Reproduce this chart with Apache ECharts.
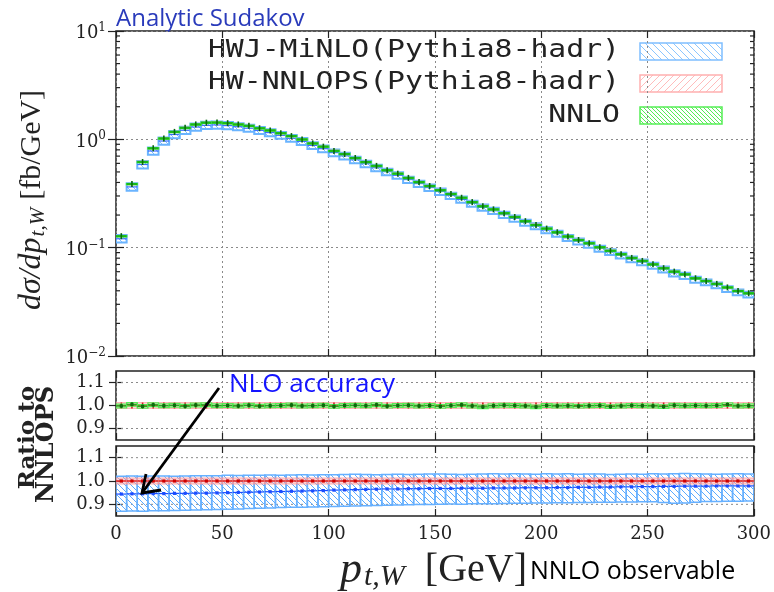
<!DOCTYPE html>
<html><head><meta charset="utf-8">
<script src="https://cdn.jsdelivr.net/npm/echarts@6/dist/echarts.min.js"></script>
<style>html,body{margin:0;padding:0;background:#fff}#c{width:774px;height:592px}</style>
</head><body><div id="c"></div>
<script>
// ---------------- data ----------------
const binLow = [0,5,10,15,20,25,30,35,40,45,50,55,60,65,70,75,80,85,90,95,100,105,110,115,120,125,130,135,140,145,150,155,160,165,170,175,180,185,190,195,200,205,210,215,220,225,230,235,240,245,250,255,260,265,270,275,280,285,290,295];
const binWidth = 5;
// HW-NNLOPS (Pythia8-hadr) central values, fb/GeV
const nnlopsXs = [0.128,0.385,0.62,0.825,1.02,1.17,1.28,1.37,1.42,1.43,1.41,1.375,1.33,1.27,1.21,1.14,1.07,1.00,
  0.918,0.855,0.785,0.732,0.672,0.618,0.567,0.521,0.482,0.44,0.404,0.371,0.341,0.313,0.288,
  0.264,0.243,0.226,0.208,0.192,0.176,0.163,0.150,0.139,0.127,0.118,0.110,0.101,0.094,0.0872,
  0.0804,0.0755,0.0703,0.065,0.060,0.0568,0.0522,0.0493,0.0463,0.0428,0.0399,0.0380];
const nnlopsRelErr = 0.013;
// HWJ-MiNLO / NNLOPS ratio (central, band low, band high)
const minloRatio = [0.944,0.945,0.945,0.946,0.946,0.947,0.947,0.948,0.948,0.949,0.950,0.951,0.952,0.953,0.954,0.955,0.956,0.957,0.958,0.959,
  0.961,0.962,0.963,0.964,0.965,0.966,0.966,0.967,0.967,0.968,0.968,0.968,0.969,0.969,0.969,0.970,0.970,0.970,0.971,0.971,
  0.971,0.972,0.972,0.973,0.973,0.974,0.974,0.975,0.975,0.976,0.976,0.977,0.977,0.978,0.978,0.978,0.979,0.979,0.979,0.979];
const minloRatioLo = [0.870,0.871,0.870,0.872,0.873,0.874,0.875,0.876,0.877,0.878,0.879,0.880,0.882,0.883,0.884,0.886,0.887,0.888,0.889,0.890,
  0.891,0.892,0.893,0.894,0.895,0.896,0.897,0.898,0.899,0.899,0.900,0.901,0.900,0.902,0.903,0.903,0.904,0.905,0.905,0.906,
  0.906,0.907,0.907,0.908,0.908,0.909,0.909,0.910,0.910,0.911,0.911,0.908,0.905,0.906,0.909,0.912,0.912,0.913,0.913,0.914];
const minloRatioHi = [1.020,1.021,1.020,1.021,1.021,1.020,1.021,1.022,1.022,1.023,1.025,1.024,1.025,1.025,1.026,1.025,1.026,1.027,1.026,1.027,
  1.027,1.028,1.029,1.028,1.027,1.028,1.029,1.028,1.029,1.030,1.030,1.029,1.028,1.029,1.030,1.031,1.030,1.031,1.030,1.029,
  1.031,1.030,1.031,1.029,1.030,1.030,1.028,1.029,1.030,1.029,1.031,1.030,1.031,1.032,1.031,1.030,1.029,1.030,1.031,1.030];
// NNLO / NNLOPS ratio
const nnloRatio = [0.998,1.005,0.996,1.003,0.999,1.001,0.997,1.002,1.003,0.999,1.000,0.998,1.001,0.997,0.999,1.000,1.002,0.998,0.999,1.001,
  0.996,1.000,1.001,0.999,1.003,0.997,1.000,1.001,0.998,1.000,0.996,1.000,1.003,0.998,0.994,0.999,1.001,1.000,0.998,0.994,
  1.000,0.998,0.999,0.997,0.999,1.000,0.995,0.998,1.000,0.999,0.998,0.995,1.001,0.999,1.000,0.999,1.000,1.004,0.998,0.999];
const nnloRelErr = 0.008;
const xTicks = [0,50,100,150,200,250,300];
const ratioTicks = [0.9,1.0,1.1];
const legendNames = ['HWJ-MiNLO(Pythia8-hadr)','HW-NNLOPS(Pythia8-hadr)','NNLO'];

// ---------------- styling helpers ----------------
function hatch(color, size, dir, lw){
  const c = document.createElement('canvas'); c.width = size; c.height = size;
  const g = c.getContext('2d'); g.strokeStyle = color; g.lineWidth = lw; g.beginPath();
  for (let k = -1; k <= 1; k++) {
    if (dir === '\\') { g.moveTo(k*size, 0); g.lineTo(k*size+size, size); }
    else { g.moveTo(k*size, size); g.lineTo(k*size+size, 0); }
  }
  g.stroke();
  return {image: c, repeat: 'repeat'};
}
const BLUE_EDGE = '#6ab4ff', RED_EDGE = '#ffa8a8', GREEN_EDGE = '#3de83d';
const blueHatch = hatch('#7cbcff', 6, '\\', 1);
const redHatch = hatch('#ffb0b0', 6, '/', 1);
const greenHatch = hatch('#44e044', 4, '\\', 1);
const SERIF = 'DejaVu Serif';

function boxRenderer(o){
  return function(params, api){
    const x0 = api.value(0), x1 = api.value(1), lo = api.value(2), hi = api.value(3), c = api.value(4);
    const a = api.coord([x0, hi]), b = api.coord([x1, lo]);
    const m0 = api.coord([x0, c]), m1 = api.coord([x1, c]);
    const cx = (m0[0] + m1[0]) / 2;
    const ch = [];
    if (o.fill || o.stroke) ch.push({type:'rect', shape:{x:a[0], y:a[1], width:b[0]-a[0], height:Math.max(1, b[1]-a[1])},
      style:{fill:o.fill || 'none', stroke:o.stroke || 'none', lineWidth:o.lw || 1}});
    if (o.center) ch.push({type:'line', shape:{x1:m0[0], y1:m0[1], x2:m1[0], y2:m1[1]}, style:{stroke:o.center, lineWidth:o.clw || 1}});
    if (o.mark) ch.push({type:'line', shape:{x1:cx, y1:m0[1]-o.markLen, x2:cx, y2:m0[1]+o.markLen}, style:{stroke:o.mark, lineWidth:1.6}});
    if (o.dot) ch.push({type:'rect', shape:{x:cx-1.6, y:m0[1]-1.6, width:3.2, height:3.2}, style:{fill:o.dot}});
    return {type:'group', children:ch};
  };
}
function boxSeries(name, xi, yi, data, o, z){
  return {type:'custom', name, xAxisIndex:xi, yAxisIndex:yi, clip:true, z:z||2,
    dimensions:['x0','x1','lo','hi','c'], encode:{x:[0,1], y:[2,3,4]}, data, renderItem:boxRenderer(o), silent:true};
}

// ---------------- derived series data ----------------
const mainBlue = binLow.map((x,i)=>[x, x+binWidth, nnlopsXs[i]*minloRatioLo[i], nnlopsXs[i]*minloRatioHi[i], nnlopsXs[i]*minloRatio[i]]);
const mainRed = binLow.map((x,i)=>[x, x+binWidth, nnlopsXs[i]*(1-nnlopsRelErr), nnlopsXs[i]*(1+nnlopsRelErr), nnlopsXs[i]]);
const mainGreen = binLow.map((x,i)=>[x, x+binWidth, nnlopsXs[i]*nnloRatio[i]*(1-nnloRelErr), nnlopsXs[i]*nnloRatio[i]*(1+nnloRelErr), nnlopsXs[i]*nnloRatio[i]]);
const ratRed = binLow.map((x)=>[x, x+binWidth, 1-nnlopsRelErr, 1+nnlopsRelErr, 1]);
const ratGreen = binLow.map((x,i)=>[x, x+binWidth, nnloRatio[i]*(1-nnloRelErr), nnloRatio[i]*(1+nnloRelErr), nnloRatio[i]]);
const ratBlue = binLow.map((x,i)=>[x, x+binWidth, minloRatioLo[i], minloRatioHi[i], minloRatio[i]]);

// log minor tick positions (axis decoration)
const minorVals = [];
[0.01, 0.1, 1].forEach(d => { for (let k = 2; k <= 9; k++) minorVals.push([k*d]); });

// ---------------- axes ----------------
const tickStyle = {color:'#222', width:1.2};
const gridLine = {show:true, lineStyle:{color:'#8a8a8a', type:[2,3], width:1}};
function xAx(grid, pos, labels){
  return {type:'value', gridIndex:grid, position:pos, min:0, max:300, interval:50,
    axisLine:{show:false}, axisTick:{show:true, inside:true, length:7, lineStyle:tickStyle},
    axisLabel:{show:labels, margin:9, fontFamily:SERIF, fontSize:18, color:'#222'},
    splitLine: pos === 'bottom' ? gridLine : {show:false}};
}
const supRich = {b:{fontFamily:SERIF, fontSize:18, color:'#222', lineHeight:18, padding:[5,0,0,0]},
  s:{fontFamily:SERIF, fontSize:12, color:'#222', verticalAlign:'top', lineHeight:12}};
function logAx(pos, labels){
  return {type:'log', logBase:10, gridIndex:0, position:pos, min:0.01, max:10,
    axisLine:{show:false}, axisTick:{show:true, inside:true, length:8, lineStyle:tickStyle},
    axisLabel:{show:labels, margin:10, formatter: v => { const e = Math.round(Math.log10(v)); return '{b|10}{s|' + (e < 0 ? '\u2212' + (-e) : e) + '}'; }, rich:supRich},
    splitLine: pos === 'left' ? gridLine : {show:false}, minorTick:{show:false}};
}
function ratAx(grid, pos, labels){
  return {type:'value', gridIndex:grid, position:pos, min:0.85, max:1.15, interval:0.05,
    axisLine:{show:false},
    axisTick:{show:true, inside:true, length:7, lineStyle:tickStyle, customValues:ratioTicks},
    axisLabel:{show:labels, margin:11, fontFamily:SERIF, fontSize:18, color:'#222', customValues:ratioTicks, formatter: v => v.toFixed(1)},
    splitLine:{show:false}};
}
const gridBorder = {show:true, borderColor:'#222', borderWidth:1.5, backgroundColor:'transparent'};

function hLineSeries(xi, yi){
  return {type:'custom', xAxisIndex:xi, yAxisIndex:yi, silent:true, z:1, data:ratioTicks.map(v=>[v]), encode:{y:0},
    renderItem:(p, api)=>{ const v = api.value(0); const a = api.coord([0, v]), b = api.coord([300, v]);
      return {type:'line', shape:{x1:a[0], y1:a[1], x2:b[0], y2:b[1]}, style:{stroke:'#8a8a8a', lineWidth:1, lineDash:[2,3]}}; }};
}

const option = {
  animation:false,
  backgroundColor:'#fff',
  grid:[
    Object.assign({left:116, top:31, width:638, height:325}, gridBorder),
    Object.assign({left:116, top:371, width:638, height:69}, gridBorder),
    Object.assign({left:116, top:446, width:638, height:70}, gridBorder)
  ],
  xAxis:[xAx(0,'bottom',false), xAx(0,'top',false), xAx(1,'bottom',false), xAx(1,'top',false), xAx(2,'bottom',true), xAx(2,'top',false)],
  yAxis:[logAx('left',true), logAx('right',false), ratAx(1,'left',true), ratAx(1,'right',false), ratAx(2,'left',true), ratAx(2,'right',false)],
  series:[
    // minor log ticks
    {type:'custom', xAxisIndex:0, yAxisIndex:0, silent:true, z:3, data:minorVals, encode:{y:0},
      renderItem:(p, api)=>{ const v = api.value(0); const a = api.coord([0, v]), b = api.coord([300, v]);
        return {type:'group', children:[
          {type:'line', shape:{x1:a[0], y1:a[1], x2:a[0]+4, y2:a[1]}, style:{stroke:'#222', lineWidth:1.2}},
          {type:'line', shape:{x1:b[0]-4, y1:b[1], x2:b[0], y2:b[1]}, style:{stroke:'#222', lineWidth:1.2}}]}; }},
    // main panel
    boxSeries(legendNames[0], 0, 0, mainBlue, {fill:blueHatch, stroke:BLUE_EDGE, lw:2, center:'#3a6cff', clw:1.2}, 2),
    boxSeries(legendNames[1], 0, 0, mainRed, {fill:redHatch, stroke:RED_EDGE, lw:1, center:'#d83030', clw:1.2}, 3),
    boxSeries(legendNames[2], 0, 0, mainGreen, {fill:greenHatch, stroke:GREEN_EDGE, lw:1.5, center:'#18b818', clw:2, mark:'#0a6a0a', markLen:3}, 4),
    // ratio panel 1 : NNLO vs NNLOPS
    hLineSeries(2, 2),
    boxSeries('r1red', 2, 2, ratRed, {fill:'rgba(255,170,170,0.45)', stroke:'rgba(255,150,150,0.6)', lw:1, center:'#e03030', clw:1.2, mark:'#cc2020', markLen:3}, 2),
    boxSeries('r1green', 2, 2, ratGreen, {fill:'none', stroke:'#55ee55', lw:1.2, center:'#22aa22', clw:1.5, mark:'#0a6a0a', markLen:2, dot:'#0a6a0a'}, 3),
    // ratio panel 2 : MiNLO vs NNLOPS
    hLineSeries(4, 4),
    boxSeries('r2blue', 4, 4, ratBlue, {fill:hatch('#5aaaff', 6, '\\', 1), stroke:'#66b0ff', lw:1.5, center:'#1a4cff', clw:1.2, dot:'#1a4cff'}, 2),
    boxSeries('r2red', 4, 4, ratRed, {fill:'rgba(255,160,160,0.45)', stroke:'rgba(255,150,150,0.7)', lw:1, center:'#e02020', clw:1.5, dot:'#d00000'}, 3)
  ],
  graphic:[
    {type:'text', x:116, y:19, style:{text:'Analytic Sudakov', fontFamily:'Open Sans', fontSize:24, fill:'#2a3bbb', textAlign:'left', textVerticalAlign:'middle', align:'left', verticalAlign:'middle'}},
    {type:'text', x:229, y:385, z:10, style:{text:'NLO accuracy', fontFamily:'Open Sans', fontSize:26, fill:'#1414ff', textAlign:'left', textVerticalAlign:'middle', align:'left', verticalAlign:'middle'}},
    {type:'text', x:530, y:572, style:{text:'NNLO observable', fontFamily:'Open Sans', fontSize:25, fill:'#000', textAlign:'left', textVerticalAlign:'middle', align:'left', verticalAlign:'middle'}},
    // x axis name
    {type:'text', x:527, y:570, style:{text:'{a|p}{b|t,W}{c|[GeV]}', textAlign:'right', textVerticalAlign:'middle', align:'right', verticalAlign:'middle',
      rich:{a:{fontFamily:'Liberation Serif', fontStyle:'italic', fontSize:44, fill:'#222', lineHeight:44},
            b:{fontFamily:'Liberation Serif', fontStyle:'italic', fontSize:30, fill:'#222', verticalAlign:'bottom', lineHeight:28, padding:[0,20,0,2]},
            c:{fontFamily:'Liberation Serif', fontSize:40, fill:'#222', lineHeight:44}}}},
    // y axis name
    {type:'text', x:32, y:200, rotation:Math.PI/2, style:{text:'{a|d\u03c3/dp}{b|t,W}{c|[fb/GeV]}', textAlign:'center', textVerticalAlign:'middle', align:'center', verticalAlign:'middle',
      rich:{a:{fontFamily:'Liberation Serif', fontStyle:'italic', fontSize:32, fill:'#222', lineHeight:34},
            b:{fontFamily:'Liberation Serif', fontStyle:'italic', fontSize:21, fill:'#222', verticalAlign:'bottom', lineHeight:21, padding:[0,8,0,1]},
            c:{fontFamily:'Liberation Serif', fontSize:30, fill:'#222', lineHeight:34}}}},
    // ratio label
    {type:'text', x:28, y:386, rotation:Math.PI/2, style:{text:'Ratio to', fontFamily:SERIF, fontWeight:'bold', fontSize:23, fill:'#222', textAlign:'right', textVerticalAlign:'middle', align:'right', verticalAlign:'middle'}},
    {type:'text', x:47, y:386, rotation:Math.PI/2, style:{text:'NNLOPS', fontFamily:SERIF, fontWeight:'bold', fontSize:24, fill:'#222', textAlign:'right', textVerticalAlign:'middle', align:'right', verticalAlign:'middle'}},
    // legend
    {type:'text', x:620, y:51, scaleX:1.24, style:{text:legendNames[0], fontFamily:'DejaVu Sans Mono', fontSize:24, fill:'#222', textAlign:'right', textVerticalAlign:'middle', align:'right', verticalAlign:'middle'}},
    {type:'text', x:620, y:83, scaleX:1.24, style:{text:legendNames[1], fontFamily:'DejaVu Sans Mono', fontSize:24, fill:'#222', textAlign:'right', textVerticalAlign:'middle', align:'right', verticalAlign:'middle'}},
    {type:'text', x:620, y:116, scaleX:1.24, style:{text:legendNames[2], fontFamily:'DejaVu Sans Mono', fontSize:24, fill:'#222', textAlign:'right', textVerticalAlign:'middle', align:'right', verticalAlign:'middle'}},
    {type:'rect', shape:{x:640, y:43, width:82, height:17}, style:{fill:hatch('#8cc6ff', 7, '\\', 1), stroke:'#7fbfff', lineWidth:1.5}},
    {type:'rect', shape:{x:640, y:75, width:82, height:17}, style:{fill:hatch('#ffbcbc', 7, '/', 1), stroke:'#ffb0b0', lineWidth:1.5}},
    {type:'rect', shape:{x:640, y:107, width:82, height:17}, style:{fill:hatch('#55ee55', 4, '\\', 1), stroke:'#55ee55', lineWidth:1.5}},
    // arrow
    {type:'group', z:20, children:[
      {type:'line', z:20, shape:{x1:219, y1:388, x2:142, y2:493}, style:{stroke:'#000', lineWidth:2.8}},
      {type:'polyline', z:20, shape:{points:[[161, 490], [142, 493], [146, 474]]}, style:{stroke:'#000', lineWidth:2.8, fill:null}}
    ]}
  ]
};
const chart = echarts.init(document.getElementById('c'), null, {renderer:'canvas'});
chart.setOption(option);
</script>
</body></html>
